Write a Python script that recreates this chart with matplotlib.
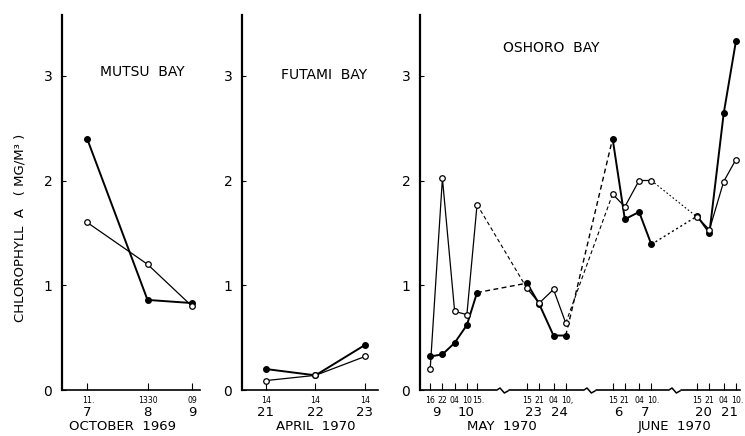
import matplotlib
matplotlib.use("Agg")
import matplotlib.pyplot as plt
import matplotlib.transforms as mtransforms
import numpy as np
import pandas as pd
from matplotlib.path import Path

# Mutsu Bay, October 1969
mutsu_times = ["1969-10-07 11:00", "1969-10-08 13:30", "1969-10-09 09:00"]
mutsu_filled = [2.40, 0.86, 0.83]
mutsu_open = [1.60, 1.20, 0.80]
mutsu_hour_labels = ["11.", "1330", "09"]
mutsu_day_labels = ["7", "8", "9"]

# Futami Bay, April 1970
futami_times = ["1970-04-21 14:00", "1970-04-22 14:00", "1970-04-23 14:00"]
futami_filled = [0.20, 0.14, 0.43]
futami_open = [0.09, 0.14, 0.32]
futami_hour_labels = ["14", "14", "14"]
futami_day_labels = ["21", "22", "23"]

# Oshoro Bay, May-June 1970 (four sampling runs)
oshoro_times = [
    "1970-05-09 16:00", "1970-05-09 22:00", "1970-05-10 04:00", "1970-05-10 10:00", "1970-05-10 15:00",
    "1970-05-23 15:00", "1970-05-23 21:00", "1970-05-24 04:00", "1970-05-24 10:00",
    "1970-06-06 15:00", "1970-06-06 21:00", "1970-06-07 04:00", "1970-06-07 10:00",
    "1970-06-20 15:00", "1970-06-20 21:00", "1970-06-21 04:00", "1970-06-21 10:00",
]
oshoro_run = [0, 0, 0, 0, 0, 1, 1, 1, 1, 2, 2, 2, 2, 3, 3, 3, 3]
oshoro_filled = [0.32, 0.34, 0.45, 0.62, 0.93, 1.02, 0.82, 0.52, 0.52,
                 2.40, 1.63, 1.70, 1.39, 1.66, 1.50, 2.64, 3.33]
oshoro_open = [0.20, 2.02, 0.75, 0.72, 1.77, 0.97, 0.83, 0.96, 0.64,
               1.87, 1.75, 2.00, 2.00, 1.65, 1.53, 1.99, 2.20]
oshoro_hour_labels = ["16", "22", "04", "10", "15.", "15", "21", "04", "10,",
                      "15", "21", "04", "10.", "15", "21", "04", "10."]
oshoro_months = ["MAY  1970", "JUNE  1970"]

YMAX = 3.58
PT = 0.72  # points per pixel at dpi 100


def hours_since(times, base):
    t = pd.to_datetime(pd.Series(times))
    return ((t - pd.Timestamp(base)) / pd.Timedelta(hours=1)).to_numpy()


def style_axis(ax, xlim):
    ax.set_xlim(*xlim)
    ax.set_ylim(0, YMAX)
    for side in ("top", "right"):
        ax.spines[side].set_visible(False)
    ax.spines["left"].set_linewidth(1.6)
    ax.spines["bottom"].set_linewidth(1.2)
    ax.set_yticks([0, 1, 2, 3])
    ax.tick_params(axis="y", direction="in", length=3, width=0.8, pad=7, labelsize=10)
    ax.tick_params(axis="x", direction="in", length=5, width=0.8, pad=4, labelsize=5.6)


def draw_series(ax, x, filled, hollow, ls="-"):
    ax.plot(x, filled, ls=ls, color="black", lw=1.4, marker="o", ms=4,
            mfc="black", mec="black", clip_on=False, zorder=3)
    ax.plot(x, hollow, ls=ls, color="black", lw=0.9, marker="o", ms=4,
            mfc="white", mec="black", mew=0.9, clip_on=False, zorder=4)


def under_label(ax, x, text, px, size, xcoords="data"):
    ax.annotate(text, xy=(x, 0), xycoords=(xcoords, "axes fraction"),
                xytext=(0, -px * PT), textcoords="offset points",
                ha="center", va="center", fontsize=size)


def nudge_punctuated(ax, fig):
    # keep the digits of "15." / "10," centred on their tick
    shift = mtransforms.ScaledTranslation(1.6 / 100, 0, fig.dpi_scale_trans)
    for lbl in ax.get_xticklabels():
        if lbl.get_text()[-1] in ".,":
            lbl.set_transform(lbl.get_transform() + shift)


fig = plt.figure(figsize=(7.45, 4.36), dpi=100)
bottom, height = 46 / 436, 375 / 436
ax1 = fig.add_axes([62 / 745, bottom, 138 / 745, height])
ax2 = fig.add_axes([242 / 745, bottom, 136 / 745, height])
ax3 = fig.add_axes([420 / 745, bottom, 320 / 745, height])

# --- Mutsu Bay ---
x1 = hours_since(mutsu_times, "1969-10-07")
style_axis(ax1, (0, 60.5))
draw_series(ax1, x1, mutsu_filled, mutsu_open)
ax1.set_xticks(x1, mutsu_hour_labels)
for x, d in zip(x1, mutsu_day_labels):
    under_label(ax1, x, d, 22, 9.5)
under_label(ax1, 0.44, "OCTOBER  1969", 36, 9.5, xcoords="axes fraction")
ax1.text(0.58, 0.848, "MUTSU  BAY", transform=ax1.transAxes, ha="center", va="center", fontsize=10)

# --- Futami Bay ---
x2 = hours_since(futami_times, "1970-04-21")
style_axis(ax2, (2.4, 68.3))
draw_series(ax2, x2, futami_filled, futami_open)
ax2.set_xticks(x2, futami_hour_labels)
for x, d in zip(x2, futami_day_labels):
    under_label(ax2, x, d, 22, 9.5)
under_label(ax2, x2[1], "APRIL  1970", 36, 9.5)
ax2.text(0.60, 0.84, "FUTAMI  BAY", transform=ax2.transAxes, ha="center", va="center", fontsize=10)

# --- Oshoro Bay: broken time axis, gaps between runs squeezed ---
x3 = hours_since(oshoro_times, "1970-05-01")
run = np.array(oshoro_run)
real_knots = np.array([-800, 203, 231, 543, 562, 879, 898, 1215, 1236, 2236])
comp_knots = np.array([-1003, 0, 28, 52.5, 71.5, 94.5, 113.5, 136, 157, 1157])


def squeeze(t):
    return np.interp(t, real_knots, comp_knots)


def unsqueeze(c):
    return np.interp(c, comp_knots, real_knots)


ax3.set_xscale("function", functions=(squeeze, unsqueeze))
style_axis(ax3, (203, 1236))
filled3 = np.array(oshoro_filled)
open3 = np.array(oshoro_open)
for r in range(4):
    m = run == r
    draw_series(ax3, x3[m], filled3[m], open3[m])
gap_dash = [(0, (3.5, 2.5)), (0, (3.5, 2.5)), (0, (1.5, 2.0))]
for r in range(3):
    i = np.where(run == r)[0][-1]
    j = i + 1
    ax3.plot(x3[[i, j]], filled3[[i, j]], ls=gap_dash[r], color="black", lw=1.0, zorder=2)
    ax3.plot(x3[[i, j]], open3[[i, j]], ls=gap_dash[r], color="black", lw=0.8, zorder=2)
ax3.set_xticks(x3, oshoro_hour_labels)
ax3.minorticks_off()
nudge_punctuated(ax3, fig)
nudge_punctuated(ax1, fig)

# day numbers under each pair of hour ticks
days = pd.to_datetime(pd.Series(oshoro_times)).dt.day.to_numpy()
for d in pd.unique(days):
    under_label(ax3, x3[days == d].mean(), str(d), 22, 9.5)

# axis break notches, midway between runs
breaks = [(x3[np.where(run == r)[0][-1]] + x3[np.where(run == r + 1)[0][0]]) / 2 for r in range(3)]
notch = Path([(-1.0, 0.0), (-0.4, 0.4), (0.3, -0.4), (1.0, 0.0)])
ax3.plot(breaks, [0] * 3, ls="none", marker="s", ms=8, mfc="white", mec="none",
         clip_on=False, zorder=5)
ax3.plot(breaks, [0] * 3, ls="none", marker=notch, ms=9, mfc="none", mec="black",
         mew=1.1, clip_on=False, zorder=6)
under_label(ax3, breaks[0], oshoro_months[0], 36, 9.5)
under_label(ax3, breaks[2], oshoro_months[1], 36, 9.5)
ax3.text(0.41, 0.912, "OSHORO  BAY", transform=ax3.transAxes, ha="center", va="center", fontsize=10)

fig.text(0.027, 0.477, "CHLOROPHYLL  A   ( MG/M³ )", rotation=90, ha="center", va="center", fontsize=9.5)

fig.savefig("out.png", dpi=100)
